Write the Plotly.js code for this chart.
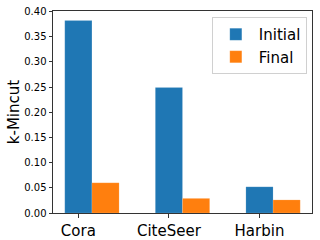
<!DOCTYPE html>
<html>
<head>
<meta charset="utf-8">
<script src="https://cdn.plot.ly/plotly-3.0.1.min.js"></script>
<style>html,body{margin:0;padding:0;background:#fff;}#chart{width:320px;height:240px;}</style>
</head>
<body>
<div id="chart"></div>
<script>
const categories = ["Cora", "CiteSeer", "Harbin"];
const initialValues = [0.382, 0.249, 0.052];
const finalValues = [0.060, 0.029, 0.026];
const yTicks = [0, 0.05, 0.10, 0.15, 0.20, 0.25, 0.30, 0.35, 0.40];

const font = {family: "DejaVu Sans", color: "#000"};

const traces = [
  {type: "bar", name: "Initial", x: categories, y: initialValues,
   width: 0.3, offset: -0.15,
   marker: {color: "#1f77b4", line: {color: "rgba(255,255,255,0.25)", width: 0.5}}},
  {type: "bar", name: "Final", x: categories, y: finalValues,
   width: 0.3, offset: 0.15,
   marker: {color: "#ff7f0e", line: {color: "rgba(255,255,255,0.25)", width: 0.5}}}
];

const layout = {
  width: 320, height: 240,
  margin: {l: 53, r: 8, t: 11, b: 27, pad: 0},
  paper_bgcolor: "#fff", plot_bgcolor: "#fff",
  font: font,
  showlegend: true,
  legend: {
    x: 0.98, y: 0.97, xanchor: "right", yanchor: "top",
    bgcolor: "rgba(255,255,255,0.8)", bordercolor: "#d0d0d0", borderwidth: 1,
    font: {family: "DejaVu Sans", size: 15, color: "#000"},
    itemwidth: 36, tracegroupgap: 0
  },
  xaxis: {
    type: "category", range: [-0.28, 2.58],
    showline: true, linecolor: "#333", linewidth: 1, mirror: true,
    ticks: "outside", ticklen: 3.5, tickcolor: "#333", tickwidth: 1,
    showgrid: false, zeroline: false,
    tickfont: {family: "DejaVu Sans", size: 15, color: "#000"},
    automargin: false
  },
  yaxis: {
    range: [0, 0.401],
    tickvals: yTicks, tickformat: ".2f",
    showline: true, linecolor: "#333", linewidth: 1, mirror: true,
    ticks: "outside", ticklen: 3.5, tickcolor: "#333", tickwidth: 1,
    showgrid: false, zeroline: false,
    tickfont: {family: "DejaVu Sans", size: 10, color: "#000"},
    title: {text: "k-Mincut", font: {family: "DejaVu Sans", size: 15, color: "#000"}, standoff: 0},
    automargin: false
  },
  bargap: 0
};

Plotly.newPlot("chart", traces, layout, {staticPlot: true, displayModeBar: false});
</script>
</body>
</html>
